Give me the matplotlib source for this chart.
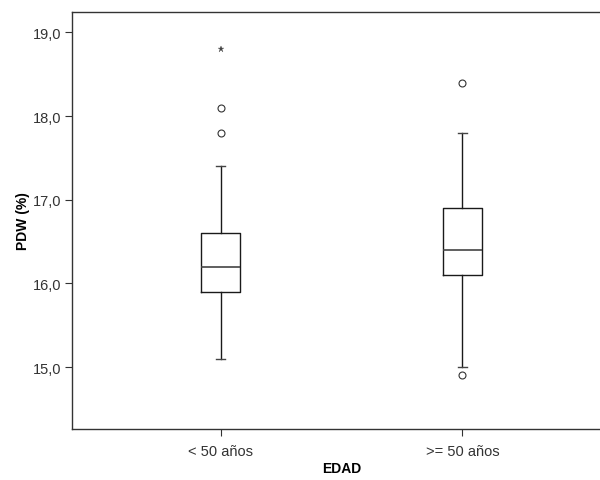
import matplotlib
matplotlib.use("Agg")
import matplotlib.pyplot as plt
from matplotlib.ticker import FixedLocator, FuncFormatter

plt.rcParams['font.family'] = ['Liberation Sans', 'DejaVu Sans']

categories = ["< 50 años", ">= 50 años"]
whisker_low = [15.1, 15.0]
q1 = [15.9, 16.1]
median = [16.2, 16.4]
q3 = [16.6, 16.9]
whisker_high = [17.4, 17.8]
outliers = [[17.8, 18.1], [18.4, 14.9]]
extremes = [[18.8], []]
y_ticks = [15.0, 16.0, 17.0, 18.0, 19.0]

fig = plt.figure(figsize=(6.0, 4.81), dpi=100)
ax = fig.add_axes([72/600, (481-430)/481, (611-72)/600, (430-12.5)/481])

stats = []
for i, c in enumerate(categories):
    stats.append(dict(label=c, whislo=whisker_low[i], q1=q1[i], med=median[i],
                      q3=q3[i], whishi=whisker_high[i], fliers=outliers[i]))

lc = '#1a1a1a'
ax.bxp(stats, positions=[1, 2], widths=0.162, showfliers=True,
       boxprops=dict(color=lc, linewidth=1.0),
       medianprops=dict(color='#444444', linewidth=1.2),
       whiskerprops=dict(color=lc, linewidth=1.0),
       capprops=dict(color='#444444', linewidth=1.0),
       capwidths=0.04,
       flierprops=dict(marker='o', markersize=5, markerfacecolor='white',
                       markeredgecolor='#333333', markeredgewidth=0.8, linestyle='none'))

for i, ex in enumerate(extremes):
    if ex:
        ax.plot([i + 1] * len(ex), ex, linestyle='none', marker='*', markersize=5,
                color='#444444', markeredgewidth=0.2)

ax.set_xlim(0.385, 2.615)
ax.set_ylim(14.26, 19.25)
ax.yaxis.set_major_locator(FixedLocator(y_ticks))
ax.yaxis.set_major_formatter(FuncFormatter(lambda v, p: f"{v:.1f}".replace('.', ',')))
ax.set_xticks([1, 2])
ax.set_xticklabels(categories)

for s in ax.spines.values():
    s.set_color('#333333')
    s.set_linewidth(1.0)

ax.tick_params(axis='both', direction='out', length=5, width=0.8, color='#333333',
               labelsize=10.5, labelcolor='#333333')
ax.tick_params(axis='x', pad=6)
ax.tick_params(axis='y', pad=3)
ax.set_ylabel("PDW (%)", fontsize=10, fontweight='bold', labelpad=2)
ax.set_xlabel("EDAD", fontsize=10, fontweight='bold', labelpad=2)

fig.savefig("out.png", dpi=100)
